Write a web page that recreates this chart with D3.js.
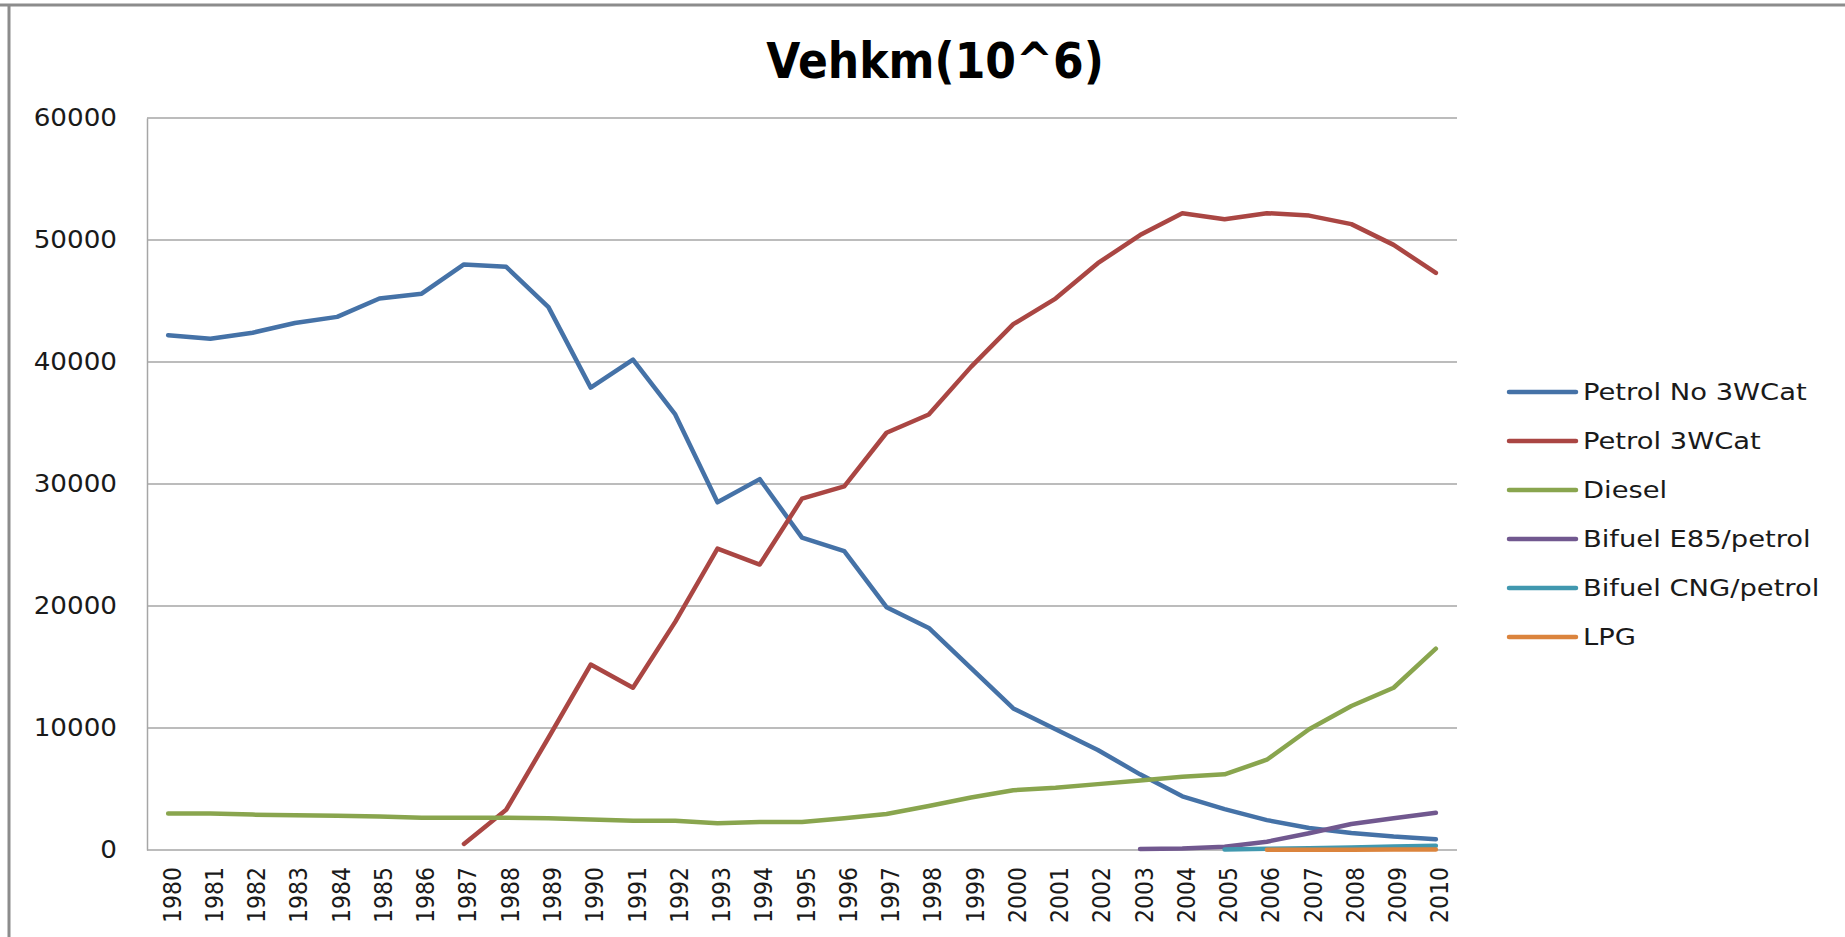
<!DOCTYPE html>
<html>
<head>
<meta charset="utf-8">
<script src="https://cdn.jsdelivr.net/npm/d3@7"></script>
<style>
  html, body { margin: 0; padding: 0; background: #fff; }
  svg { display: block; }
  text { font-family: "DejaVu Sans", Verdana, sans-serif; fill: #1a1a1a; }
</style>
</head>
<body>
<script>
// chart values
const years = d3.range(1980, 2011);

const seriesNames = ['Petrol No 3WCat', 'Petrol 3WCat', 'Diesel', 'Bifuel E85/petrol', 'Bifuel CNG/petrol', 'LPG'];
const seriesColors = ['#4572A7', '#AA4643', '#89A54E', '#71588F', '#4198AF', '#DB843D'];

const petrolNo3WCat = [42200, 41900, 42400, 43200, 43700, 45200, 45600, 48000, 47800, 44500,
  37900, 40200, 35700, 28500, 30400, 25600, 24500, 19900, 18200, 14900,
  11600, 9900, 8200, 6200, 4400, 3350, 2450, 1800, 1400, 1100, 880];
// starts in 1987
const petrol3WCat = [null, null, null, null, null, null, null, 500, 3300, 9200,
  15200, 13300, 18700, 24700, 23400, 28800, 29800, 34200, 35700, 39600,
  43100, 45200, 48100, 50400, 52200, 51700, 52200, 52000, 51300, 49600, 47300];
const diesel = [3000, 3000, 2900, 2850, 2800, 2750, 2650, 2650, 2650, 2600,
  2500, 2400, 2400, 2200, 2300, 2300, 2600, 2950, 3600, 4300,
  4900, 5100, 5400, 5700, 6000, 6200, 7400, 9900, 11800, 13300, 16500];
const bifuelE85 = [null, null, null, null, null, null, null, null, null, null,
  null, null, null, null, null, null, null, null, null, null,
  null, null, null, 80, 120, 270, 680, 1370, 2130, 2600, 3050];
const bifuelCNG = [null, null, null, null, null, null, null, null, null, null,
  null, null, null, null, null, null, null, null, null, null,
  null, null, null, null, null, 50, 100, 150, 200, 280, 350];
const lpg = [null, null, null, null, null, null, null, null, null, null,
  null, null, null, null, null, null, null, null, null, null,
  null, null, null, null, null, null, 20, 25, 30, 35, 40];

const yTicks = [0, 10000, 20000, 30000, 40000, 50000, 60000];
const title = 'Vehkm(10^6)';

const seriesValues = [petrolNo3WCat, petrol3WCat, diesel, bifuelE85, bifuelCNG, lpg];

const width = 1845;
const height = 937;
const plot = { left: 147, right: 1457, top: 118, bottom: 850 };

const svg = d3.select('body').append('svg')
  .attr('width', width)
  .attr('height', height);

// outer frame (top and left edges only are visible in the picture)
svg.append('line')
  .attr('x1', 0).attr('x2', width).attr('y1', 5).attr('y2', 5)
  .attr('stroke', '#8c8c8c').attr('stroke-width', 3);
svg.append('line')
  .attr('x1', 9).attr('x2', 9).attr('y1', 5).attr('y2', height)
  .attr('stroke', '#8c8c8c').attr('stroke-width', 3);

// the original text is a little stretched sideways, so scale it the same way
svg.append('text')
  .attr('transform', 'translate(935,78) scale(0.9,1)')
  .attr('text-anchor', 'middle')
  .attr('font-size', 49)
  .attr('font-weight', 'bold')
  .style('fill', '#000')
  .text(title);

const x = d3.scalePoint()
  .domain(years)
  .range([plot.left, plot.right])
  .padding(0.5);

const y = d3.scaleLinear()
  .domain([0, 60000])
  .range([plot.bottom, plot.top]);

// gridlines
svg.append('g')
  .selectAll('line')
  .data(yTicks.filter(d => d > 0))
  .enter().append('line')
  .attr('x1', plot.left)
  .attr('x2', plot.right)
  .attr('y1', d => y(d))
  .attr('y2', d => y(d))
  .attr('stroke', '#a6a6a6')
  .attr('stroke-width', 1.5);

// y axis
const yAxis = svg.append('g')
  .attr('transform', `translate(${plot.left},0)`)
  .call(d3.axisLeft(y).tickValues(yTicks).tickSize(0).tickFormat(d3.format('d')));
yAxis.select('.domain').attr('stroke', '#a6a6a6').attr('stroke-width', 1.5);
yAxis.selectAll('text')
  .attr('font-size', 24.5)
  .attr('font-family', '"DejaVu Sans", Verdana, sans-serif')
  .style('fill', '#1a1a1a')
  .attr('x', 0)
  .attr('transform', 'translate(-30,0) scale(1.07,1)');

// x axis
const xAxis = svg.append('g')
  .attr('transform', `translate(0,${plot.bottom})`)
  .call(d3.axisBottom(x).tickSize(0).tickSizeOuter(0));
xAxis.select('.domain')
  .attr('d', `M${plot.left},0H${plot.right}`)
  .attr('stroke', '#a6a6a6').attr('stroke-width', 1.5);
xAxis.selectAll('text')
  .attr('font-size', 22)
  .attr('font-family', '"DejaVu Sans", Verdana, sans-serif')
  .style('fill', '#1a1a1a')
  .attr('text-anchor', 'end')
  .attr('transform', 'translate(3,0) rotate(-90) scale(1,1.14)')
  .attr('x', -17)
  .attr('y', 0)
  .attr('dy', '0.36em');

const line = d3.line()
  .defined(d => d != null)
  .x((d, i) => x(years[i]))
  .y(d => y(d));

svg.append('g')
  .selectAll('path')
  .data(seriesValues)
  .enter().append('path')
  .attr('fill', 'none')
  .attr('stroke', (d, i) => seriesColors[i])
  .attr('stroke-width', 4.5)
  .attr('stroke-linejoin', 'round')
  .attr('stroke-linecap', 'round')
  .attr('d', d => line(d));

// legend
const legend = svg.append('g')
  .selectAll('g')
  .data(seriesNames)
  .enter().append('g')
  .attr('transform', (d, i) => `translate(1509,${392 + i * 49})`);

legend.append('line')
  .attr('x1', 0).attr('x2', 67)
  .attr('y1', 0).attr('y2', 0)
  .attr('stroke', (d, i) => seriesColors[i])
  .attr('stroke-width', 4.5)
  .attr('stroke-linecap', 'round');

legend.append('text')
  .attr('transform', 'translate(74,0) scale(1.19,1)')
  .attr('dy', '0.36em')
  .attr('font-size', 23)
  .text(d => d);
</script>
</body>
</html>
